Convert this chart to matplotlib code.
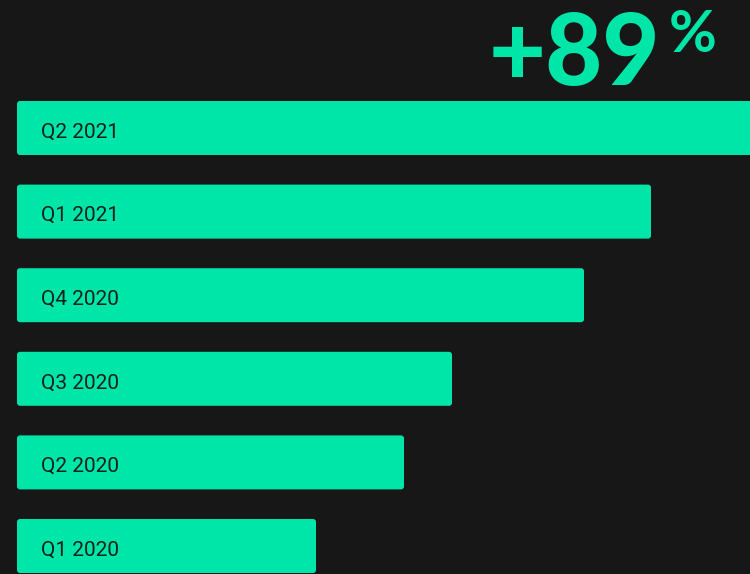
import matplotlib
matplotlib.use("Agg")
import matplotlib.pyplot as plt
from matplotlib.patches import FancyBboxPatch

categories = ["Q1 2020", "Q2 2020", "Q3 2020", "Q4 2020", "Q1 2021", "Q2 2021"]
values = [299, 387, 435, 567, 634, 745]
headline = "+89"
headline_sup = "%"

BG = "#171717"
GREEN = "#00E6A8"
TEXT = "#10201b"

W, H = 750, 574
fig = plt.figure(figsize=(W / 100, H / 100), dpi=100, facecolor=BG)
ax = fig.add_axes([0, 0, 1, 1])
ax.set_facecolor(BG)
pitch = 83.6
ax.set_xlim(-17, W - 17)
ax.set_ylim(-28 / pitch, (H - 28) / pitch)
ax.axis("off")

bar_h = 54 / pitch
for i, (cat, v) in enumerate(zip(categories, values)):
    p = FancyBboxPatch((0, i - bar_h / 2), v, bar_h,
                       boxstyle="round,pad=0,rounding_size=3",
                       mutation_aspect=1 / pitch,
                       facecolor=GREEN, edgecolor="none")
    ax.add_patch(p)
    ax.text(24, i - 4 / pitch, cat, ha="left", va="center", fontsize=15,
            family="Roboto", color=TEXT)

fig.text(489 / W, 1 - 85 / H, headline, ha="left", va="baseline",
         fontsize=71, family="Lato", weight="black", color=GREEN)
fig.text(669 / W, 1 - 52 / H, headline_sup, ha="left", va="baseline",
         fontsize=42, family="Lato", weight="bold", color=GREEN)

fig.savefig("out.png", dpi=100, facecolor=BG)
